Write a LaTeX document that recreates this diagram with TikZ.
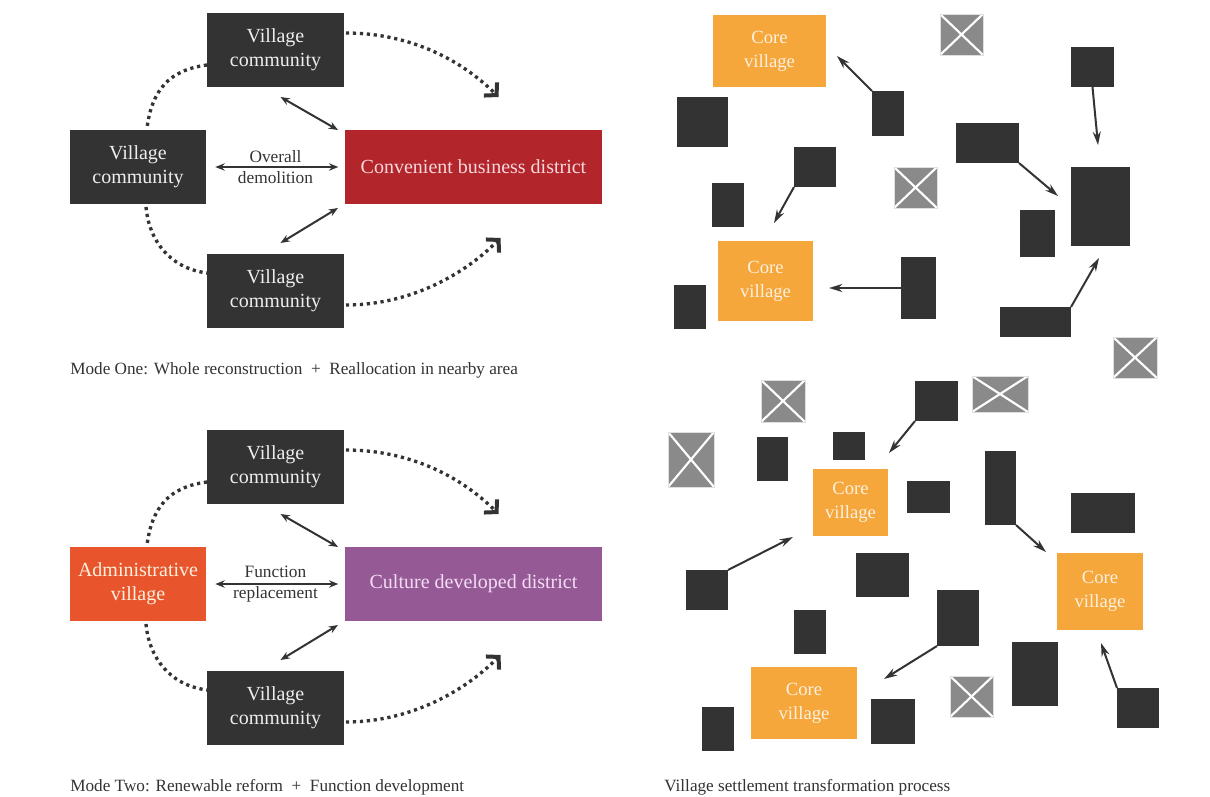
\documentclass[tikz,border=0pt]{standalone}
\usepackage{fontspec}
\setmainfont{Liberation Serif}
\usetikzlibrary{arrows.meta,calc}
\definecolor{dg}{HTML}{333333}
\definecolor{redb}{HTML}{B2262B}
\definecolor{adm}{HTML}{E8552D}
\definecolor{pur}{HTML}{955A96}
\definecolor{corec}{HTML}{F5A73C}
\definecolor{xg}{HTML}{8A8A8A}
\definecolor{boxtxt}{HTML}{EEEEEE}
\definecolor{pinktxt}{HTML}{F8D8DC}
\definecolor{purtxt}{HTML}{F4DCF4}
\definecolor{coretxt}{HTML}{FDF0DE}
\newcommand\mkbox[7]{%
  \pgfmathsetmacro\mkcx{(#2+#4)/2}%
  \pgfmathsetmacro\mkcy{(#3+#5)/2}%
  \pgfmathsetmacro\mkw{(#4-#2)*0.75}%
  \pgfmathsetmacro\mkh{(#5-#3)*0.75}%
  \node[#6,minimum width=\mkw pt,minimum height=\mkh pt] (#1) at (\mkcx,\mkcy) {#7};}
\begin{document}
\begin{tikzpicture}[x=0.75pt,y=-0.75pt,
  base/.style={inner sep=0pt,outer sep=0pt,align=center},
  vc/.style={base,fill=dg,text=boxtxt,font=\fontsize{15}{18}\selectfont},
  redbox/.style={base,fill=redb,text=pinktxt,font=\fontsize{15}{18}\selectfont},
  admbox/.style={base,fill=adm,text=coretxt,font=\fontsize{15}{18}\selectfont},
  purbox/.style={base,fill=pur,text=purtxt,font=\fontsize{15}{18}\selectfont},
  blk/.style={base,fill=dg},
  core/.style={base,fill=corec,text=coretxt,font=\fontsize{14}{18}\selectfont},
  xbox/.style={base,fill=xg,draw=gray!25,line width=0.6pt,
    path picture={\draw[white,line width=1.6pt]
      (path picture bounding box.north west) -- (path picture bounding box.south east)
      (path picture bounding box.north east) -- (path picture bounding box.south west);}},
  lbl/.style={inner sep=0pt,align=center,text=dg,font=\fontsize{13}{15.5}\selectfont},
  captxt/.style={inner sep=0pt,anchor=west,text=dg,font=\fontsize{12.9}{15}\selectfont},
  dbl/.style={draw=dg,line width=1.5pt,{Stealth[length=7pt,width=5.5pt]}-{Stealth[length=7pt,width=5.5pt]}},
  sa/.style={draw=dg,line width=1.5pt,-{Stealth[length=10pt,width=6pt]}},
  dotc/.style={draw=dg,line width=2.5pt,line cap=butt,dash pattern=on 2.4pt off 2.8pt},
  dotarr/.style={dotc,-{Straight Barb[length=6.5pt,width=14pt,line width=3pt]}}
]
\fill[white] (0,0) rectangle (1210,796);
\useasboundingbox (0,0) rectangle (1210,796);

% ---------- Mode One ----------
\mkbox{tva}{207}{13}{344}{87}{vc}{Village\\community}
\mkbox{lva}{70}{130}{206}{204}{vc}{Village\\community}
\mkbox{rda}{345}{130}{602}{204}{redbox}{Convenient business district}
\mkbox{bva}{207}{254}{344}{328}{vc}{Village\\community}
\node[lbl] (ova) at ($(lva.east)!0.5!(rda.west)$) {Overall\\demolition};
\draw[dbl,shorten <=7pt,shorten >=5pt] (lva.east) -- (rda.west);
\draw[dbl] ($(tva.south)+(5,10)$) -- ($(rda.north west)+(-7,0)$);
\draw[dbl] ($(rda.south west)+(-7,4)$) -- ($(bva.north)+(5,-11)$);
\coordinate (ta) at ($(rda.north)+(25,-33)$);
\coordinate (ba) at ($(rda.south)+(27,34)$);
\draw[dotc] ($(tva.west)+(0,15)$) .. controls +(-38,5) and +(5,-38) .. ($(lva.north)+(9,-2)$);
\draw[dotc] ($(lva.south)+(8,3)$) .. controls +(3,33) and +(-38,-5) .. ($(bva.west)+(0,-18)$);
\draw[dotarr] ($(tva.east)+(2,-17)$) .. controls +(60,0) and +(-40,-40) .. (ta);
\draw[dotarr] ($(bva.east)+(2,14)$) .. controls +(60,0) and +(-40,40) .. (ba);
\node[captxt] (capa) at (70,370) {Mode One: Whole reconstruction\ \ +\ \ Reallocation in nearby area};

% ---------- Mode Two ----------
\mkbox{tvb}{207}{430}{344}{504}{vc}{Village\\community}
\mkbox{lvb}{70}{547}{206}{621}{admbox}{Administrative\\village}
\mkbox{rdb}{345}{547}{602}{621}{purbox}{Culture developed district}
\mkbox{bvb}{207}{671}{344}{745}{vc}{Village\\community}
\node[lbl] (ovb) at ($(lvb.east)!0.5!(rdb.west)$) {Function\\replacement};
\draw[dbl,shorten <=7pt,shorten >=5pt] (lvb.east) -- (rdb.west);
\draw[dbl] ($(tvb.south)+(5,10)$) -- ($(rdb.north west)+(-7,0)$);
\draw[dbl] ($(rdb.south west)+(-7,4)$) -- ($(bvb.north)+(5,-11)$);
\coordinate (tb) at ($(rdb.north)+(25,-33)$);
\coordinate (bb) at ($(rdb.south)+(27,34)$);
\draw[dotc] ($(tvb.west)+(0,15)$) .. controls +(-38,5) and +(5,-38) .. ($(lvb.north)+(9,-2)$);
\draw[dotc] ($(lvb.south)+(8,3)$) .. controls +(3,33) and +(-38,-5) .. ($(bvb.west)+(0,-18)$);
\draw[dotarr] ($(tvb.east)+(2,-17)$) .. controls +(60,0) and +(-40,-40) .. (tb);
\draw[dotarr] ($(bvb.east)+(2,14)$) .. controls +(60,0) and +(-40,40) .. (bb);
\node[captxt] (capb) at (70,787) {Mode Two: Renewable reform\ \ +\ \ Function development};

% ---------- Settlement transformation ----------
\mkbox{c1}{713}{15}{826}{87}{core}{Core\\village}
\mkbox{x1}{940}{14}{983}{55}{xbox}{}
\mkbox{b1}{1071}{47}{1114}{87}{blk}{}
\mkbox{b2}{677}{97}{728}{147}{blk}{}
\mkbox{b3}{872}{91}{904}{136}{blk}{}
\mkbox{b4}{956}{123}{1019}{163}{blk}{}
\mkbox{b5}{1071}{167}{1130}{246}{blk}{}
\mkbox{b6}{794}{147}{836}{187}{blk}{}
\mkbox{x2}{894}{167}{937}{208}{xbox}{}
\mkbox{b7}{712}{183}{744}{227}{blk}{}
\mkbox{b8}{1020}{210}{1055}{257}{blk}{}
\mkbox{c2}{718}{241}{813}{321}{core}{Core\\village}
\mkbox{b9}{901}{257}{936}{319}{blk}{}
\mkbox{b10}{674}{285}{706}{329}{blk}{}
\mkbox{b11}{1000}{307}{1071}{337}{blk}{}
\mkbox{x3}{1113}{337}{1157}{378}{xbox}{}

\mkbox{x4}{761}{380}{805}{422}{xbox}{}
\mkbox{b12}{915}{381}{958}{421}{blk}{}
\mkbox{x5}{972}{376}{1028}{412}{xbox}{}
\mkbox{x6}{668}{432}{714}{487}{xbox}{}
\mkbox{b13}{757}{437}{788}{481}{blk}{}
\mkbox{b14}{833}{432}{865}{460}{blk}{}
\mkbox{c3}{813}{469}{888}{536}{core}{Core\\village}
\mkbox{b15}{907}{481}{950}{513}{blk}{}
\mkbox{b16}{985}{451}{1016}{525}{blk}{}
\mkbox{b17}{1071}{493}{1135}{533}{blk}{}
\mkbox{c4}{1057}{553}{1143}{630}{core}{Core\\village}
\mkbox{b18}{686}{570}{728}{610}{blk}{}
\mkbox{b19}{856}{553}{909}{597}{blk}{}
\mkbox{b20}{794}{610}{826}{654}{blk}{}
\mkbox{b21}{937}{590}{979}{646}{blk}{}
\mkbox{b22}{1012}{642}{1058}{706}{blk}{}
\mkbox{c5}{751}{667}{857}{739}{core}{Core\\village}
\mkbox{x7}{950}{676}{993}{717}{xbox}{}
\mkbox{b23}{1117}{688}{1159}{728}{blk}{}
\mkbox{b24}{702}{707}{734}{751}{blk}{}
\mkbox{b25}{871}{699}{915}{744}{blk}{}

\coordinate (t1) at (1098,145);
\coordinate (t2) at (837,56);
\coordinate (t3) at (1058,196);
\coordinate (t4) at (774,223);
\coordinate (t5) at (829,288);
\coordinate (t6) at (1099,258);
\coordinate (t7) at (889,453);
\coordinate (t8) at (1046,552);
\coordinate (t9) at (793,537);
\coordinate (t10) at (884,679);
\coordinate (t11) at (1101,643);
\draw[sa] (b1.south) -- (t1);
\draw[sa] (b3.north west) -- (t2);
\draw[sa] (b4.south east) -- (t3);
\draw[sa] (b6.south west) -- (t4);
\draw[sa] (b9.west) -- (t5);
\draw[sa] (b11.north east) -- (t6);
\draw[sa] (b12.south west) -- (t7);
\draw[sa] (b16.south east) -- (t8);
\draw[sa] (b18.north east) -- (t9);
\draw[sa] (b21.south west) -- (t10);
\draw[sa] (b23.north west) -- (t11);
\node[captxt] (capc) at (664,787) {Village settlement transformation process};
\end{tikzpicture}
\end{document}
